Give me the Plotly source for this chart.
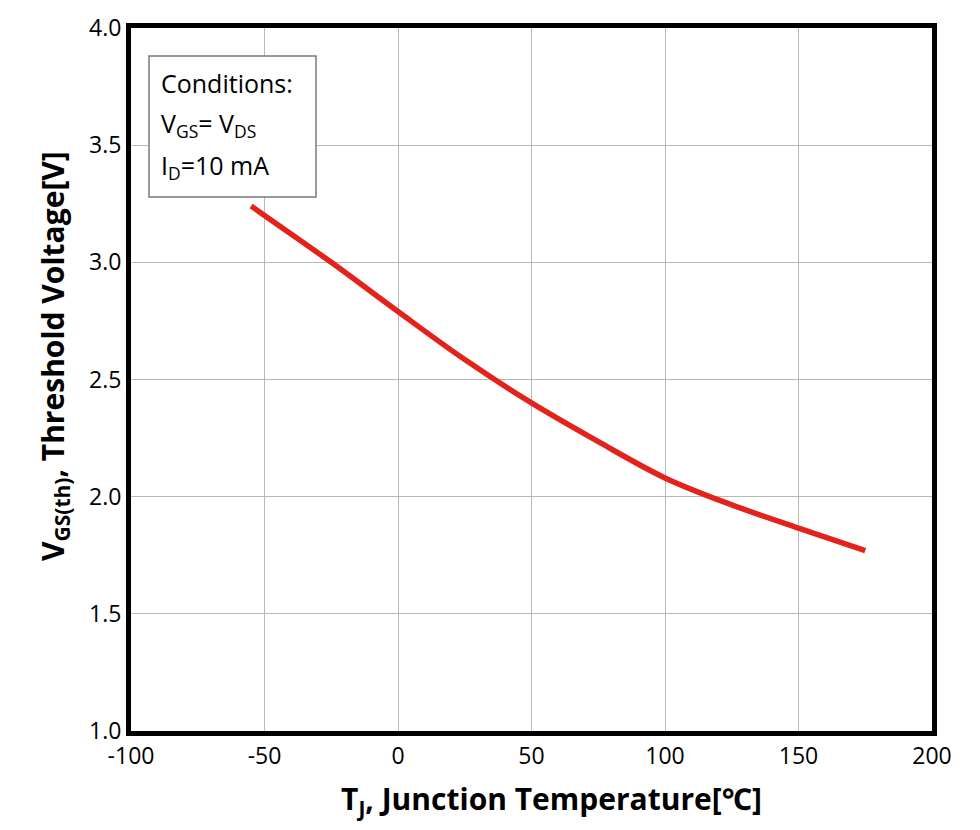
import plotly.graph_objects as go

temp_c = [-55, -50, -25, 0, 25, 50, 75, 100, 125, 150, 175]
vth_v = [3.24, 3.20, 3.00, 2.79, 2.585, 2.40, 2.235, 2.08, 1.965, 1.866, 1.77]

x_ticks = [-100, -50, 0, 50, 100, 150, 200]
y_ticks = [1.0, 1.5, 2.0, 2.5, 3.0, 3.5, 4.0]

cond_lines = ["Conditions:", "V<sub>GS</sub>= V<sub>DS</sub>", "I<sub>D</sub>=10 mA"]
x_title = "<b>T<sub>J</sub>, Junction Temperature[℃]</b>"
y_title = "<b>V<sub>GS(th)</sub>, Threshold Voltage[V]</b>"

L, R, T, B = 131, 932, 28, 731
W, H = R - L, B - T

fig = go.Figure()
fig.add_trace(go.Scatter(
    x=temp_c, y=vth_v, mode="lines",
    line=dict(color="#e3231b", width=5.5, shape="spline", smoothing=1.0),
    showlegend=False,
))

tick_font = dict(family="Open Sans, Noto Sans, sans-serif", size=23, color="black")
title_font = dict(family="Open Sans, Noto Sans, sans-serif", size=30, color="black")

fig.update_layout(
    width=980, height=830,
    margin=dict(l=L, r=980 - R, t=T, b=830 - B),
    paper_bgcolor="white", plot_bgcolor="white",
    xaxis=dict(
        range=[-100, 200], tickvals=x_ticks, ticktext=[str(v) for v in x_ticks],
        showgrid=True, gridcolor="#b8b8b8", gridwidth=1,
        showline=True, linecolor="black", linewidth=5, mirror=True,
        ticks="", tickfont=tick_font, zeroline=False,
    ),
    yaxis=dict(
        range=[1.0, 4.0], tickvals=y_ticks, ticktext=[f"{v:.1f}" for v in y_ticks],
        showgrid=True, gridcolor="#b8b8b8", gridwidth=1,
        showline=True, linecolor="black", linewidth=5, mirror=True,
        ticks="", tickfont=tick_font, zeroline=False,
    ),
)

# axis titles
fig.add_annotation(xref="paper", yref="paper", x=(551 - L) / W, y=(B - 800) / H,
                   xanchor="center", yanchor="middle", showarrow=False,
                   text=x_title, font=title_font)
fig.add_annotation(xref="paper", yref="paper", x=(54 - L) / W, y=(B - 356) / H,
                   xanchor="center", yanchor="middle", showarrow=False, textangle=-90,
                   text=y_title, font=title_font)

# conditions box
fig.add_shape(type="rect", xref="paper", yref="paper",
              x0=(149 - L) / W, x1=(316 - L) / W,
              y0=(B - 197) / H, y1=(B - 56) / H,
              line=dict(color="#7a7a7a", width=1.5), fillcolor="white", layer="above")
for txt, ypx in zip(cond_lines, [83, 125, 166]):
    fig.add_annotation(
        xref="paper", yref="paper", x=(159 - L) / W, y=(B - ypx) / H,
        xanchor="left", yanchor="middle", align="left", showarrow=False,
        text=txt,
        font=dict(family="Open Sans, Noto Sans, sans-serif", size=25, color="black"),
    )

fig.write_html("out.html")
